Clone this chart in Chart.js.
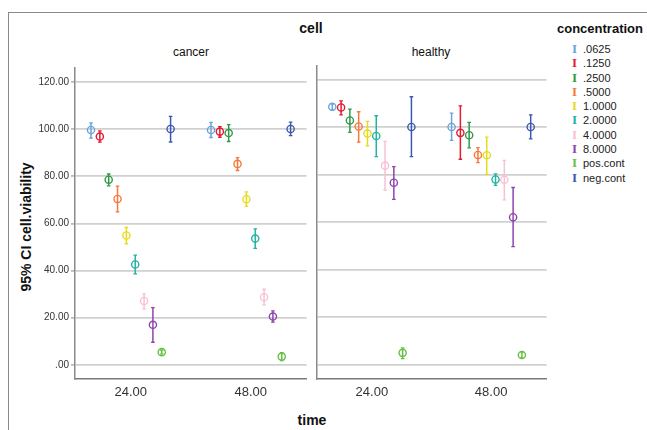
<!DOCTYPE html>
<html>
<head>
<meta charset="utf-8">
<script src="https://cdn.jsdelivr.net/npm/chart.js@4.4.1/dist/chart.umd.min.js"></script>
<style>
  body { margin: 0; background: #fff; font-family: "Liberation Sans", Arial, sans-serif; }
  #wrap { position: relative; width: 647px; height: 430px; overflow: hidden; background: #fff; }
  #frame { position: absolute; left: 8px; top: 12px; width: 700px; height: 500px; border: 1.5px solid #8a8a8a; }
  .abs { position: absolute; white-space: nowrap; color: #111; }
  .bold { font-weight: bold; font-size: 14px; }
  #cvLeft { position: absolute; left: 0; top: 60px; }
  #cvRight { position: absolute; left: 311px; top: 60px; }
  #legend { position: absolute; left: 572px; top: 42px; font-size: 11px; color: #222; }
  #legend div { height: 14.3px; line-height: 14.3px; }
  #legend span.mark { font-family: "Liberation Serif", serif; font-size: 13px; font-weight: bold; display: inline-block; width: 11px; }
</style>
</head>
<body>
<div id="wrap">
  <div id="frame"></div>
  <div class="abs bold" style="left:311px; top:20px; transform:translateX(-50%);">cell</div>
  <div class="abs bold" style="left:557px; top:21px; font-size:13px;">concentration</div>
  <div class="abs" style="left:191px; top:45px; transform:translateX(-50%); font-size:12px;">cancer</div>
  <div class="abs" style="left:431px; top:45px; transform:translateX(-50%); font-size:12px;">healthy</div>
  <div class="abs bold" style="left:26px; top:227px; transform:translate(-50%,-50%) rotate(-90deg);">95% CI cell.viability</div>
  <div class="abs bold" style="left:312px; top:412px; transform:translateX(-50%);">time</div>
  <canvas id="cvLeft" width="312" height="350"></canvas>
  <canvas id="cvRight" width="241" height="350"></canvas>
  <div id="legend"></div>
</div>
<script>
const concentrations = ['.0625', '.1250', '.2500', '.5000', '1.0000', '2.0000', '4.0000', '8.0000', 'pos.cont', 'neg.cont'];
const colors = ['#6aa3dc', '#e61a30', '#2f9a45', '#f5793a', '#e6dc1c', '#22b3a3', '#f8c0d2', '#8e44ad', '#66c044', '#3b58b0'];
const timeLabels = ['24.00', '48.00'];
const yTicks = [0, 20, 40, 60, 80, 100, 120];
const yTickLabels = ['.00', '20.00', '40.00', '60.00', '80.00', '100.00', '120.00'];

// means and 95% CI
const cancer24Mean = [99.7, 96.9, 78.6, 70.4, 54.9, 42.6, 27.1, 17.0, 5.4, 100.1];
const cancer24Low = [96.2, 94.5, 76.0, 64.9, 51.4, 38.6, 23.8, 9.6, 4.6, 94.6];
const cancer24High = [102.7, 99.3, 81.0, 75.9, 58.3, 46.6, 30.1, 24.3, 6.3, 105.5];
const cancer48Mean = [99.7, 99.0, 98.4, 85.3, 70.3, 53.6, 28.7, 20.5, 3.5, 100.1];
const cancer48Low = [96.5, 96.6, 94.8, 82.5, 67.3, 49.4, 25.5, 18.1, 1.8, 97.3];
const cancer48High = [102.9, 101.1, 102.0, 88.0, 73.4, 57.7, 32.1, 22.9, 5.2, 103.0];
const healthy24Mean = [108.6, 108.3, 102.8, 100.3, 97.3, 96.3, 83.8, 76.6, 5.0, 100.1];
const healthy24Low = [107.2, 105.2, 97.8, 93.7, 92.1, 87.6, 73.5, 69.6, 2.6, 87.6];
const healthy24High = [109.7, 111.1, 107.6, 106.5, 102.4, 104.8, 94.0, 83.4, 7.1, 112.8];
const healthy48Mean = [100.1, 97.6, 96.6, 88.3, 88.2, 78.0, 77.9, 62.1, 4.1, 100.1];
const healthy48Low = [94.4, 86.5, 91.3, 85.1, 80.1, 75.5, 69.4, 49.7, 2.9, 95.1];
const healthy48High = [105.9, 109.0, 102.0, 91.4, 95.8, 80.3, 86.0, 74.6, 5.3, 105.2];

const dodge = 0.0737;

function buildDatasets(m24, lo24, hi24, m48, lo48, hi48) {
  const sets = [];
  concentrations.forEach((name, i) => {
    const off = (i - 4.5) * dodge;
    sets.push({
      label: name + ' CI',
      data: [
        { x: 1 + off, y: lo24[i] }, { x: 1 + off, y: hi24[i] },
        { x: 1.5, y: null },
        { x: 2 + off, y: lo48[i] }, { x: 2 + off, y: hi48[i] }
      ],
      borderColor: colors[i],
      borderWidth: 1.5,
      pointStyle: 'line',
      pointRadius: 1.8,
      pointBorderWidth: 1.3,
      pointBorderColor: colors[i],
      spanGaps: false,
      tension: 0
    });
    sets.push({
      label: name,
      data: [{ x: 1 + off, y: m24[i] }, { x: 2 + off, y: m48[i] }],
      showLine: false,
      pointStyle: 'circle',
      pointRadius: 3.6,
      pointBorderWidth: 1.4,
      pointBorderColor: colors[i],
      pointBackgroundColor: 'rgba(0,0,0,0)'
    });
  });
  return sets;
}

function makeChart(id, datasets, showY) {
  return new Chart(document.getElementById(id), {
    type: 'line',
    data: { datasets: datasets },
    options: {
      responsive: false,
      animation: false,
      layout: { padding: { top: 4, right: 4, left: showY ? 0 : 4, bottom: 0 } },
      plugins: { legend: { display: false }, tooltip: { enabled: false } },
      scales: {
        x: {
          type: 'linear',
          min: 0.535,
          max: 2.465,
          afterBuildTicks: s => { s.ticks = [{ value: 1 }, { value: 2 }]; },
          afterFit: s => { s.height = 31; },
          ticks: {
            callback: v => timeLabels[v - 1],
            font: { family: 'Liberation Sans', size: 13 },
            color: '#333',
            padding: 6,
            maxRotation: 0
          },
          grid: { display: false, drawTicks: false },
          border: { display: true, color: '#7a7a7a', width: 1.5 }
        },
        y: {
          type: 'linear',
          min: -6,
          max: 126,
          afterBuildTicks: s => { s.ticks = yTicks.map(v => ({ value: v })); },
          afterFit: s => { s.width = showY ? 75 : 0; },
          ticks: {
            display: showY,
            callback: v => yTickLabels[yTicks.indexOf(v)],
            font: { family: 'Liberation Sans', size: 10 },
            color: '#333',
            padding: 2
          },
          grid: { color: '#d0d0d0', lineWidth: 1.8, tickLength: showY ? 4 : 0, tickColor: '#bbb' },
          border: { display: true, color: '#8a8a8a', width: 1.5 }
        }
      }
    }
  });
}

makeChart('cvLeft', buildDatasets(cancer24Mean, cancer24Low, cancer24High, cancer48Mean, cancer48Low, cancer48High), true);
makeChart('cvRight', buildDatasets(healthy24Mean, healthy24Low, healthy24High, healthy48Mean, healthy48Low, healthy48High), false);

const legend = document.getElementById('legend');
concentrations.forEach((name, i) => {
  const row = document.createElement('div');
  row.innerHTML = '<span class="mark" style="color:' + colors[i] + '">I</span>' + name;
  legend.appendChild(row);
});
</script>
</body>
</html>
